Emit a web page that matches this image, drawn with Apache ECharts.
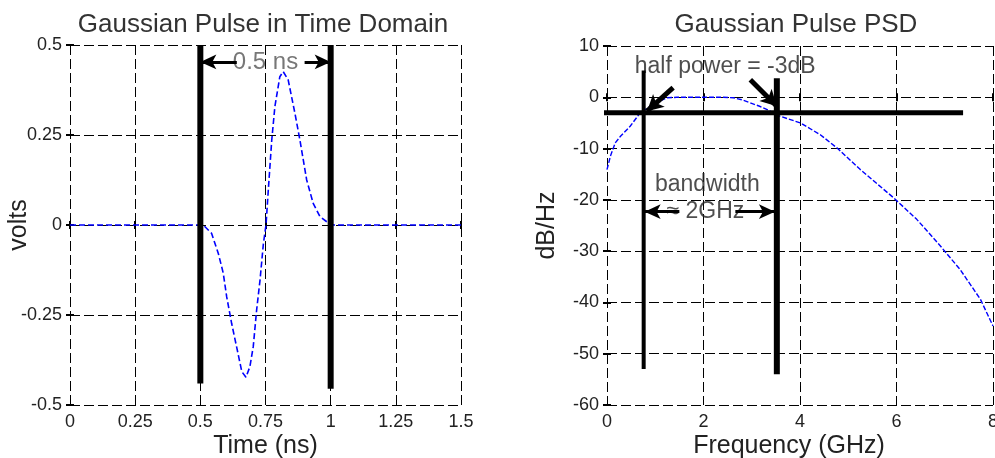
<!DOCTYPE html>
<html>
<head>
<meta charset="utf-8">
<script src="https://cdn.jsdelivr.net/npm/echarts@6/dist/echarts.min.js"></script>
<style>
  html, body { margin: 0; padding: 0; background: #fff; }
  #chart { width: 995px; height: 458px; }
</style>
</head>
<body>
<div id="chart"></div>
<script>
// Gaussian monocycle in the time domain
const timeNs = [0, 0.5, 0.511, 0.543, 0.569, 0.588, 0.601, 0.620, 0.639, 0.659, 0.675, 0.690, 0.703, 0.716, 0.729, 0.742, 0.752, 0.761, 0.774, 0.786, 0.805, 0.818, 0.837, 0.863, 0.882, 0.908, 0.933, 0.959, 0.985, 1.01, 1.5];
const volts = [0, 0, 0, -0.023, -0.079, -0.134, -0.199, -0.273, -0.338, -0.407, -0.423, -0.394, -0.338, -0.236, -0.153, -0.051, 0, 0.100, 0.236, 0.329, 0.412, 0.426, 0.403, 0.310, 0.236, 0.125, 0.060, 0.023, 0.009, 0, 0];

// Power spectral density of the pulse
const freqGHz = [0, 0.07, 0.17, 0.28, 0.48, 0.69, 0.90, 1.05, 1.24, 1.45, 2.0, 2.4, 2.62, 2.8, 2.97, 3.15, 3.32, 3.59, 4.01, 4.42, 4.77, 5.25, 5.94, 6.42, 6.91, 7.32, 7.74, 8.0];
const psdDb = [-14.1, -11.5, -8.9, -7.6, -5.65, -3.0, -1.75, -0.9, -0.1, 0, 0, 0, -0.1, -0.5, -1.1, -1.7, -2.4, -3.7, -5.0, -7.3, -9.9, -14.1, -19.6, -23.8, -29.0, -33.6, -39.4, -44.6];

// Tick values
const timeTicks = [0, 0.25, 0.5, 0.75, 1, 1.25, 1.5];
const voltTicks = [-0.5, -0.25, 0, 0.25, 0.5];
const freqTicks = [0, 2, 4, 6, 8];
const dbTicks = [-60, -50, -40, -30, -20, -10, 0, 10];

// Annotation geometry, in data units
const pulseEdges = [[[0.5, 0.5], [0.5, -0.44]], [[1.0, 0.5], [1.0, -0.455]]];
const widthArrows = [[[0.64, 0.453], [0.5, 0.453]], [[0.90, 0.453], [1.0, 0.453]]];
const halfPowerLine = [[-0.14, -3], [7.38, -3]];
const bandEdges = [[[0.76, 5.2], [0.76, -53]], [[3.52, 3.7], [3.52, -54]]];
const pointerArrows = [[[1.37, 1.9], [0.83, -2.7]], [[2.97, 3.4], [3.52, -1.75]]];
const bandArrows = [[[1.50, -22.3], [0.78, -22.3]], [[2.66, -22.3], [3.48, -22.3]]];
const pulseNotes = [{ value: [0.75, 0.453], text: '0.5 ns' }];
const psdNotes = [
  { value: [2.45, 6.0], text: 'half power = -3dB' },
  { value: [2.08, -17.0], text: 'bandwidth' },
  { value: [2.04, -22.3], text: '\u2248 2GHz' }
];

const FONT = '"Liberation Sans", Arial, Helvetica, sans-serif';
const INK = '#222';

function mainX(grid, min, max, step, name, nameShift) {
  return {
    type: 'value', gridIndex: grid, min: min, max: max, interval: step,
    name: name, nameLocation: 'middle', nameGap: 29, nameMoveOverlap: false,
    nameTextStyle: { fontFamily: FONT, fontSize: 25, color: INK, padding: [0, nameShift || 0, 0, 0] },
    axisLine: { show: false },
    axisTick: { inside: true, length: 4, lineStyle: { color: '#000', width: 2 } },
    axisLabel: { fontFamily: FONT, fontSize: 18, color: INK, margin: 8, showMinLabel: true, showMaxLabel: true },
    splitLine: { show: true, lineStyle: { color: '#000', width: 1, type: [10, 4] } }
  };
}
function mainY(grid, min, max, step, name, gap) {
  return {
    type: 'value', gridIndex: grid, min: min, max: max, interval: step,
    name: name, nameLocation: 'middle', nameGap: gap, nameMoveOverlap: false,
    nameTextStyle: { fontFamily: FONT, fontSize: 25, color: INK },
    axisLine: { show: false },
    axisTick: { inside: true, length: 4, lineStyle: { color: '#000', width: 2 } },
    axisLabel: { fontFamily: FONT, fontSize: 18, color: INK, margin: 8 },
    splitLine: { show: true, lineStyle: { color: '#000', width: 1, type: [10, 4] } }
  };
}
function mirrorAxis(grid, min, max, step, pos) {
  return {
    type: 'value', gridIndex: grid, min: min, max: max, interval: step, position: pos,
    axisLine: { show: false },
    axisTick: { inside: true, length: 4, lineStyle: { color: '#000', width: 2 } },
    axisLabel: { show: false }, splitLine: { show: false }
  };
}

function segSeries(xi, yi, pts, width) {
  return {
    type: 'line', xAxisIndex: xi, yAxisIndex: yi, data: pts, showSymbol: false,
    clip: false, silent: true, z: 5,
    lineStyle: { color: '#000', width: width }
  };
}
function arrowSeries(xi, yi, pairs, width, size) {
  return {
    type: 'line', xAxisIndex: xi, yAxisIndex: yi, data: [], z: 6,
    markLine: {
      silent: true, animation: false, symbol: ['none', 'arrow'], symbolSize: size,
      label: { show: false },
      lineStyle: { color: '#000', width: width, type: 'solid' },
      emphasis: { disabled: true },
      data: pairs.map(p => [{ coord: p[0] }, { coord: p[1] }])
    }
  };
}
function noteSeries(xi, yi, notes, color, size) {
  return {
    type: 'scatter', xAxisIndex: xi, yAxisIndex: yi, symbolSize: 0, z: 4, silent: true,
    data: notes.map(n => ({ value: n.value, name: n.text })),
    label: { show: true, position: 'inside', formatter: p => p.name,
             fontFamily: FONT, fontSize: size, color: color }
  };
}

const chart = echarts.init(document.getElementById('chart'), null, { renderer: 'canvas' });
chart.setOption({
  animation: false,
  backgroundColor: '#fff',
  title: [
    { text: 'Gaussian Pulse in Time Domain', left: 263, top: 12, textAlign: 'center', padding: 0,
      textStyle: { fontFamily: FONT, fontSize: 26, fontWeight: 'normal', color: '#333' } },
    { text: 'Gaussian Pulse PSD', left: 796, top: 12, textAlign: 'center', padding: 0,
      textStyle: { fontFamily: FONT, fontSize: 26, fontWeight: 'normal', color: '#333' } }
  ],
  grid: [
    { left: 70, top: 45, width: 391, height: 360, containLabel: false, outerBoundsMode: 'none' },
    { left: 607, top: 46, width: 386, height: 359, containLabel: false, outerBoundsMode: 'none' }
  ],
  xAxis: [
    mainX(0, timeTicks[0], timeTicks[timeTicks.length - 1], 0.25, 'Time (ns)'),
    mainX(1, freqTicks[0], freqTicks[freqTicks.length - 1], 2, 'Frequency (GHz)', 22),
    mirrorAxis(0, 0, 1.5, 0.25, 'top'),
    mirrorAxis(1, 0, 8, 2, 'top')
  ],
  yAxis: [
    mainY(0, voltTicks[0], voltTicks[voltTicks.length - 1], 0.25, 'volts', 38),
    mainY(1, dbTicks[0], dbTicks[dbTicks.length - 1], 10, 'dB/Hz', 47),
    mirrorAxis(0, -0.5, 0.5, 0.25, 'right'),
    mirrorAxis(1, -60, 10, 10, 'right')
  ],
  series: [
    {
      type: 'line', xAxisIndex: 0, yAxisIndex: 0, showSymbol: false, z: 3,
      data: timeNs.map((t, i) => [t, volts[i]]),
      lineStyle: { color: '#0000ff', width: 1.6, type: [6, 3] }
    },
    {
      type: 'line', xAxisIndex: 1, yAxisIndex: 1, showSymbol: false, z: 3,
      data: freqGHz.map((f, i) => [f, psdDb[i]]),
      lineStyle: { color: '#0000ff', width: 1.4, type: [5, 2] }
    },
    segSeries(0, 0, pulseEdges[0], 6),
    segSeries(0, 0, pulseEdges[1], 6),
    arrowSeries(0, 0, widthArrows, 3, [11, 16]),
    noteSeries(0, 0, pulseNotes, '#555', 24),
    segSeries(1, 1, halfPowerLine, 5),
    segSeries(1, 1, bandEdges[0], 4),
    segSeries(1, 1, bandEdges[1], 6),
    arrowSeries(1, 1, pointerArrows, 5, [13, 16]),
    arrowSeries(1, 1, bandArrows, 3, [11, 16]),
    noteSeries(1, 1, psdNotes, INK, 23)
  ]
});
</script>
</body>
</html>
